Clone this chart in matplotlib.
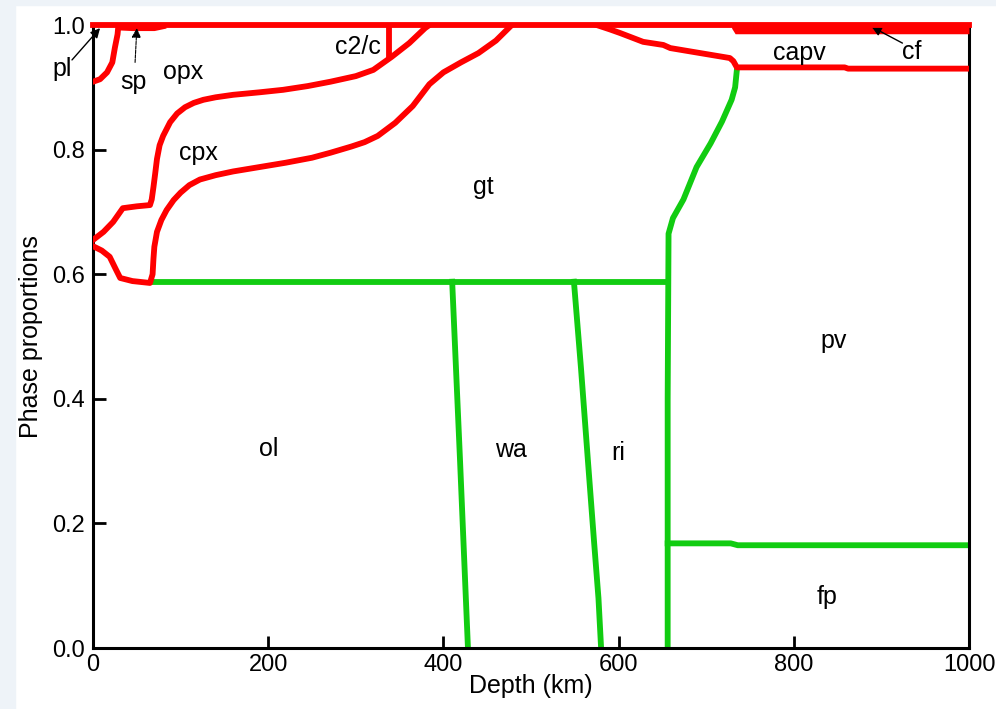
import matplotlib
matplotlib.use('Agg')
from matplotlib import pyplot as plt
from matplotlib.patches import Rectangle

plt.rcParams['font.family'] = ['Liberation Sans', 'DejaVu Sans']

RED = '#ff0000'
GREEN = '#11cc11'

# phase boundaries (depth km, cumulative proportion)
top_x = [0, 1000]
top_y = [1.0, 1.0]

pl_x = [0, 8, 16, 22, 25, 28, 29]
pl_y = [0.909, 0.913, 0.924, 0.94, 0.964, 0.985, 1.0]

sp_x = [30, 45, 70, 80]
sp_y = [0.996, 0.995, 0.995, 0.998]

# upper cpx boundary (opx / cpx)
opx_x = [0, 12, 23, 34, 50, 65, 67, 69, 71, 73, 76, 80, 88, 96, 105, 115, 126, 140,
         160, 190, 217, 245, 271, 300, 320, 341, 361, 379, 384]
opx_y = [0.655, 0.668, 0.684, 0.706, 0.709, 0.711, 0.72, 0.74, 0.762, 0.785, 0.807,
         0.822, 0.844, 0.858, 0.868, 0.875, 0.880, 0.884, 0.888, 0.892, 0.896, 0.902,
         0.909, 0.918, 0.928, 0.949, 0.971, 0.995, 1.0]

# lower cpx boundary (cpx / gt)
cpx_x = [0, 10, 19, 26, 31, 45, 65, 68, 69, 70, 73, 78, 84, 92, 100, 110, 122, 140,
         160, 190, 220, 250, 271, 295, 310, 325, 345, 365, 384, 400, 420, 440, 460,
         478]
cpx_y = [0.645, 0.638, 0.628, 0.608, 0.594, 0.589, 0.586, 0.6, 0.625, 0.644, 0.668,
         0.687, 0.703, 0.719, 0.731, 0.743, 0.752, 0.759, 0.765, 0.772, 0.779, 0.787,
         0.795, 0.805, 0.812, 0.822, 0.843, 0.870, 0.905, 0.924, 0.940, 0.955,
         0.975, 1.0]

c2c_x = [338, 338]
c2c_y = [1.0, 0.95]

capv_x = [575, 590, 602, 615, 628, 651, 659, 693, 727, 731, 735, 760, 858, 862, 1000]
capv_y = [1.0, 0.993, 0.987, 0.98, 0.973, 0.968, 0.963, 0.955, 0.947, 0.942, 0.932,
          0.932, 0.932, 0.930, 0.930]

cf_x = [729, 733, 1000]
cf_top = [1.0, 1.0, 1.0]
cf_bot = [0.995, 0.986, 0.986]

# green boundaries
ol_gt_x = [68, 656]
ol_gt_y = [0.588, 0.588]

ol_wa_x = [410, 419, 428]
ol_wa_y = [0.588, 0.3, 0.0]

wa_ri_x = [549, 557, 565, 572, 577, 580]
wa_ri_y = [0.588, 0.45, 0.3, 0.17, 0.08, 0.0]

pv_x = [656, 656, 657, 662, 674, 689, 705, 718, 729, 733, 735]
pv_y = [0.0, 0.4, 0.665, 0.69, 0.72, 0.772, 0.81, 0.845, 0.88, 0.90, 0.928]

fp_x = [656, 728, 736, 1000]
fp_y = [0.168, 0.168, 0.165, 0.165]

phase_names = ['opx', 'cpx', 'c2/c', 'gt', 'capv', 'ol', 'wa', 'ri', 'pv', 'fp']
phase_x = [103, 120, 302, 446, 806, 200, 477, 599, 846, 838]
phase_y = [0.925, 0.795, 0.965, 0.74, 0.955, 0.32, 0.318, 0.313, 0.493, 0.082]

fig = plt.figure(figsize=(9.96, 7.09), dpi=100)
fig.patch.set_facecolor('white')
# light frame strip along the left and top edge
fig.patches.append(Rectangle((0, 0), 0.015, 1, transform=fig.transFigure,
                             color='#eef3f8', zorder=0))
fig.patches.append(Rectangle((0, 0.993), 1, 0.007, transform=fig.transFigure,
                             color='#eef3f8', zorder=0))

ax = fig.add_axes([0.0934, 0.086, 0.8795, 0.8787])

lw = 4.2
for xs, ys in [(pl_x, pl_y), (opx_x, opx_y), (cpx_x, cpx_y), (c2c_x, c2c_y),
               (capv_x, capv_y), (sp_x, sp_y)]:
    ax.plot(xs, ys, color=RED, lw=lw, solid_joinstyle='round', zorder=3)
ax.fill_between(cf_x, cf_bot, cf_top, color=RED, lw=0, zorder=3, clip_on=False)
ax.plot(top_x, top_y, color=RED, lw=lw, zorder=4, clip_on=False)

for xs, ys in [(ol_gt_x, ol_gt_y), (ol_wa_x, ol_wa_y), (wa_ri_x, wa_ri_y),
               (pv_x, pv_y), (fp_x, fp_y)]:
    ax.plot(xs, ys, color=GREEN, lw=lw, solid_joinstyle='round', zorder=2)

fs = 18
for name, x, y in zip(phase_names, phase_x, phase_y):
    ax.text(x, y, name, fontsize=fs, ha='center', va='center')

arrow = dict(arrowstyle='-|>', color='black', lw=1, shrinkA=0, shrinkB=0,
             mutation_scale=14)
ax.annotate('pl', xy=(8, 0.995), xytext=(-35, 0.93), fontsize=fs,
            ha='center', va='center', annotation_clip=False)
ax.annotate('', xy=(8, 0.995), xytext=(-24, 0.944), arrowprops=arrow,
            annotation_clip=False)
ax.annotate('sp', xy=(50, 0.995), xytext=(46, 0.908), fontsize=fs,
            ha='center', va='center', annotation_clip=False)
ax.annotate('', xy=(50, 0.995), xytext=(48, 0.94),
            arrowprops=dict(arrowstyle='-|>', color='black', lw=0.8,
                            ls=(0, (3, 1)), shrinkA=0, shrinkB=0,
                            mutation_scale=14), annotation_clip=False)
ax.annotate('cf', xy=(889, 0.997), xytext=(935, 0.957), fontsize=fs,
            ha='center', va='center', annotation_clip=False)
ax.annotate('', xy=(889, 0.997), xytext=(924, 0.971), arrowprops=arrow,
            annotation_clip=False)

ax.set_xlim(0, 1000)
ax.set_ylim(0, 1.0)
ax.set_xticks([0, 200, 400, 600, 800, 1000])
ax.set_yticks([0.0, 0.2, 0.4, 0.6, 0.8, 1.0])
ax.set_yticklabels(['0.0', '0.2', '0.4', '0.6', '0.8', '1.0'])
ax.tick_params(direction='in', length=9, width=2, labelsize=17, pad=6,
               top=False, right=False)
ax.tick_params(axis='x', pad=4)
for s in ax.spines.values():
    s.set_linewidth(2.2)
ax.set_xlabel('Depth (km)', fontsize=18, labelpad=-1)
ax.set_ylabel('Phase proportions', fontsize=18, labelpad=6)

fig.savefig('out.png', dpi=100)
